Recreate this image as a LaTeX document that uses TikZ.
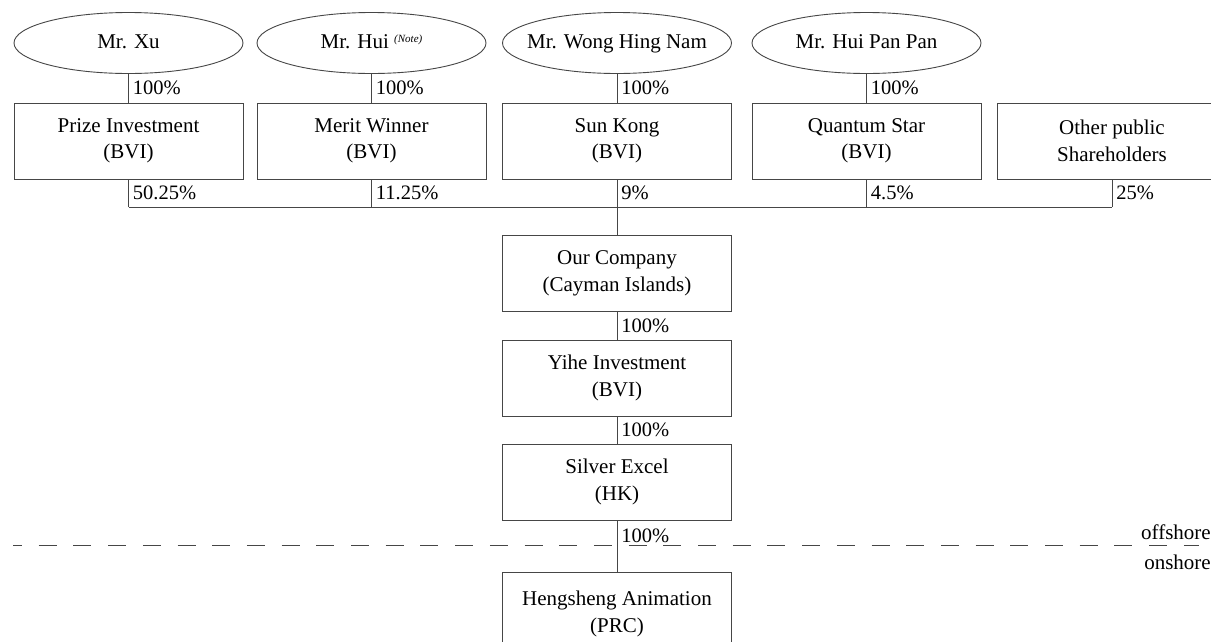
\documentclass[tikz,border=0pt]{standalone}
\usepackage{fontspec}
\setmainfont{Liberation Serif}
\usetikzlibrary{shapes.geometric}
\definecolor{linegray}{RGB}{70,70,70}
\newcommand{\zw}[1]{\makebox[0pt]{\strut #1}}
\tikzset{
  base/.style={font=\fontsize{21}{26.5}\selectfont, text=black, align=center},
  person/.style={base, ellipse, draw=linegray, line width=0.9pt, inner sep=0pt, minimum width=229pt, minimum height=61pt},
  company/.style={base, rectangle, draw=linegray, line width=0.9pt, inner sep=0pt, minimum width=229pt, minimum height=76pt},
  link/.style={draw=linegray, line width=0.9pt},
  pct/.style={font=\fontsize{20.5}{24}\selectfont, text=black, anchor=west, inner sep=0pt, xshift=4pt},
  sidelabel/.style={font=\fontsize{21}{24}\selectfont, text=black, anchor=east, inner sep=0pt}
}
\begin{document}
\begin{tikzpicture}[x=1pt,y=-1pt]
\useasboundingbox (0,0) rectangle (1211,641);
\fill[white] (0,0) rectangle (1211,641);

% owners
\node[person] (p1) at (128.5,43) {\zw{Mr. Xu}};
\node[person] (p2) at (371.5,43) {\zw{Mr. Hui \raisebox{6pt}{\fontsize{11}{12}\selectfont\itshape (Note)}}};
\node[person] (p3) at (617,43) {\zw{Mr. Wong Hing Nam}};
\node[person] (p4) at (866.5,43) {\zw{Mr. Hui Pan Pan}};

% shareholders
\node[company] (c1) at (128.5,141) {Prize Investment\\(BVI)};
\node[company] (c2) at (371.5,141) {Merit Winner\\(BVI)};
\node[company] (c3) at (617,141) {Sun Kong\\(BVI)};
\node[company] (c4) at (866.5,141) {Quantum Star\\(BVI)};
\node[company] (c5) at (1112,141) {Other public\\Shareholders};

% chain
\node[company] (oc) at (617,273.5) {Our Company\\(Cayman Islands)};
\node[company] (yh) at (617,378) {Yihe Investment\\(BVI)};
\node[company] (se) at (617,482) {Silver Excel\\(HK)};
\node[company, minimum height=84pt] (hs) at (617,614) {Hengsheng Animation\\(PRC)};

% bus coordinates
\coordinate (b1) at (128.5,207);
\coordinate (b2) at (371.5,207);
\coordinate (b3) at (617,207);
\coordinate (b4) at (866.5,207);
\coordinate (b5) at (1112,207);

% offshore / onshore divider
\coordinate (dl) at (13,545);
\coordinate (dr) at (1199,545);
\draw[linegray, line width=1pt, dash pattern=on 18pt off 16.7pt, dash phase=9pt] (dl) -- (dr);
\node[sidelabel] (off) at (1211,532) {offshore};
\node[sidelabel] (on) at (1211,562) {onshore};

% owner links
\draw[link] (p1) -- (c1) node[midway, pct] {100\%};
\draw[link] (p2) -- (c2) node[midway, pct] {100\%};
\draw[link] (p3) -- (c3) node[midway, pct] {100\%};
\draw[link] (p4) -- (c4) node[midway, pct] {100\%};

% shareholder links
\draw[link] (c1.south) -- (b1) node[midway, pct] {50.25\%};
\draw[link] (c2.south) -- (b2) node[midway, pct] {11.25\%};
\draw[link] (c3.south) -- (b3) node[midway, pct] {9\%};
\draw[link] (c4.south) -- (b4) node[midway, pct] {4.5\%};
\draw[link] (c5.south) -- (b5) node[midway, pct] {25\%};
\draw[link] (b1) -- (b5);
\draw[link] (b3) -- (oc.north);

% chain links
\draw[link] (oc) -- (yh) node[midway, pct] {100\%};
\draw[link] (yh) -- (se) node[midway, pct] {100\%};
\draw[link] (se) -- (hs) node[pos=0.3, pct] {100\%};
\end{tikzpicture}
\end{document}
